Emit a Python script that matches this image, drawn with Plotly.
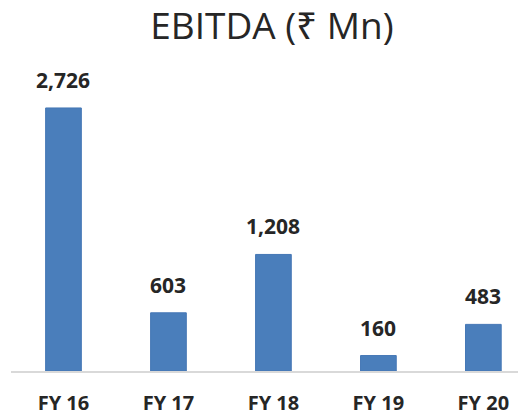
import plotly.graph_objects as go

years = ["FY 16", "FY 17", "FY 18", "FY 19", "FY 20"]
ebitda = [2726, 603, 1208, 160, 483]

BAR_COLOR = "#4a7ebb"
FONT = "Open Sans"

fig = go.Figure()
fig.add_trace(go.Bar(
    x=years,
    y=ebitda,
    width=0.34,
    marker=dict(color=BAR_COLOR, line=dict(color="#4577b5", width=1)),
    hoverinfo="x+y",
))

# value labels above the bars
for yr, val in zip(years, ebitda):
    fig.add_annotation(
        x=yr, y=val, text=f"<b>{val:,}</b>",
        showarrow=False, yanchor="bottom", yshift=12,
        font=dict(family=FONT, size=21, color="#262626"),
    )

fig.update_layout(
    template="none",
    width=518,
    height=417,
    margin=dict(l=11, r=0, t=60, b=46),
    paper_bgcolor="white",
    plot_bgcolor="white",
    showlegend=False,
    title=dict(
        text="EBITDA (₹ Mn)",
        x=0.525, xanchor="center",
        y=0.9375, yanchor="middle",
        font=dict(family=FONT, size=37, color="#262626"),
    ),
    xaxis=dict(
        type="category",
        automargin=False,
        range=[-0.5, 4.33],
        showline=True,
        linecolor="#d9d9d9",
        linewidth=1.5,
        ticks="",
        ticklabelstandoff=13,
        tickfont=dict(family=FONT, size=20, color="#262626", weight="bold"),
        showgrid=False,
        zeroline=False,
    ),
    yaxis=dict(
        automargin=False,
        range=[0, 3223],
        visible=False,
        showgrid=False,
        zeroline=False,
    ),
)

# drop the default body margin so the figure sits at the page corner
fig.write_html(
    "out.html",
    config={"displayModeBar": False},
    post_script="document.body.style.margin='0';",
)
